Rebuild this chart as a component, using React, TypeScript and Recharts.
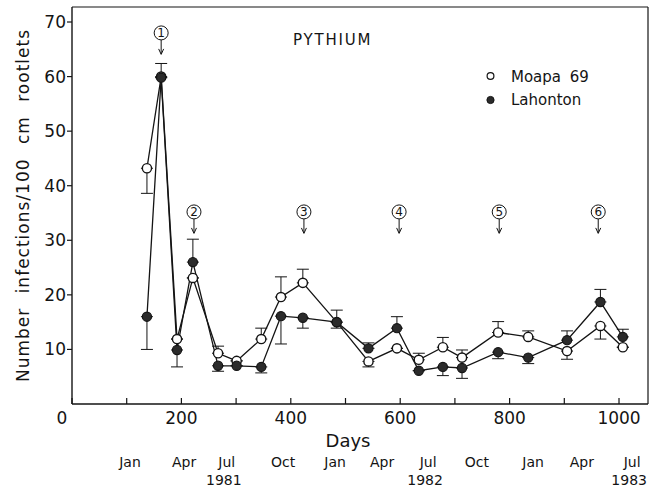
import { LineChart, Line, XAxis, YAxis, ErrorBar, ReferenceDot, ReferenceLine, Legend } from "recharts";

const FONT = "DejaVu Sans";
const INK = "#141414";

// sampling days (days since the start of the trial)
const days = [137, 163, 192, 221, 267, 301, 346, 382, 422, 484, 542, 594, 634, 678, 713, 779, 834, 905, 966, 1007];

// Moapa 69 (open circles) and its error whiskers [below, above]
const moapa = [43.2, 60.0, 11.9, 23.1, 9.3, 7.9, 11.9, 19.6, 22.2, 15.0, 7.8, 10.2, 8.1, 10.4, 8.5, 13.1, 12.3, 9.7, 14.3, 10.4];
const moapaErr = [
  [4.6, 0], [0, 2.4], [0, 0], [0, 0], [0, 1.3], [0, 0], [0, 2.0], [0, 3.7], [0, 2.5], [0, 2.2],
  [1.0, 0], [0, 0], [0, 1.2], [0, 1.8], [0, 1.4], [0, 2.0], [0, 1.1], [1.5, 0], [2.4, 0], [0, 0],
];

// Lahonton (filled circles)
const lahonton = [16.0, 59.8, 9.9, 26.0, 7.0, 7.0, 6.8, 16.1, 15.8, 15.0, 10.2, 13.9, 6.1, 6.8, 6.6, 9.5, 8.5, 11.7, 18.7, 12.3];
const lahontonErr = [
  [6.0, 0], [0, 0], [3.1, 0], [0, 4.2], [1.0, 0], [0, 0], [1.1, 0], [5.1, 0], [1.9, 0], [1.1, 0],
  [0, 1.0], [0, 2.1], [0, 0], [1.6, 0], [1.9, 0], [1.2, 0], [1.1, 0], [0, 1.7], [0, 2.3], [0, 1.4],
];

// numbered treatment markers (circled numbers with arrows)
const markerNums = [1, 2, 3, 4, 5, 6];
const markerDays = [163, 223, 424, 598, 781, 962];
const markerLevels = [68, 35.2, 35.2, 35.2, 35.2, 35.2];

const X_MAX = 1053;
const Y_MAX = 72.75;

const dayTicks = [0, 100, 200, 300, 400, 500, 600, 700, 800, 900, 1000];
const valueTicks = [10, 20, 30, 40, 50, 60, 70];

// calendar row under the day axis
const monthDays = [106, 205, 283, 386, 481, 567, 651, 740, 843, 932, 1024];
const monthNames = ["Jan", "Apr", "Jul", "Oct", "Jan", "Apr", "Jul", "Oct", "Jan", "Apr", "Jul"];
const monthYears = ["", "", "1981", "", "", "", "1982", "", "", "", "1983"];

const allTicks = [...dayTicks, ...monthDays].sort((a, b) => a - b);

const data = days.map((day, i) => ({
  day,
  moapa: moapa[i],
  moapaErr: moapaErr[i],
  lahonton: lahonton[i],
  lahontonErr: lahontonErr[i],
}));

function DayTick({ x, y, payload }: any) {
  const v = payload.value;
  const m = monthDays.indexOf(v);
  if (m >= 0) {
    return (
      <g fontFamily={FONT} fill={INK} fontSize={14} textAnchor="middle">
        <text x={x} y={y + 63}>{monthNames[m]}</text>
        {monthYears[m] && <text x={x - 3} y={y + 81}>{monthYears[m]}</text>}
      </g>
    );
  }
  return (
    <g>
      <line x1={x} x2={x} y1={y} y2={y - 6} stroke={INK} strokeWidth={1.2} />
      {v % 200 === 0 && (
        <text x={v === 0 ? x - 10 : x} y={y + 20} textAnchor="middle" fontFamily={FONT} fontSize={17} fill={INK}>
          {v}
        </text>
      )}
    </g>
  );
}

function Marker({ cx, cy, n }: { cx: number; cy: number; n: number }) {
  return (
    <g>
      <circle cx={cx} cy={cy} r={7} fill="white" stroke={INK} strokeWidth={1} />
      <text x={cx} y={cy + 4.3} textAnchor="middle" fontFamily={FONT} fontSize={12} fill={INK}>
        {n}
      </text>
      <line x1={cx} x2={cx} y1={cy + 7} y2={cy + 21} stroke={INK} strokeWidth={1} />
      <path d={`M${cx - 2.5},${cy + 16} L${cx},${cy + 21.5} L${cx + 2.5},${cy + 16}`} fill="none" stroke={INK} strokeWidth={1} />
    </g>
  );
}

function OpenDot({ cx, cy }: any) {
  return <circle cx={cx} cy={cy} r={4.6} fill="white" stroke={INK} strokeWidth={1.4} />;
}

function FilledDot({ cx, cy }: any) {
  return <circle cx={cx} cy={cy} r={4.6} fill="#2b2b2b" stroke={INK} strokeWidth={1.2} />;
}

function LegendBox() {
  return (
    <svg width={120} height={46} style={{ display: "block" }}>
      <circle cx={8.5} cy={10} r={3.4} fill="white" stroke={INK} strokeWidth={1.2} />
      <text x={29} y={16} fontFamily={FONT} fontSize={15} fill={INK} wordSpacing={4}>Moapa 69</text>
      <circle cx={8.5} cy={34} r={3.6} fill="#2b2b2b" stroke={INK} />
      <text x={29} y={38.5} fontFamily={FONT} fontSize={15} fill={INK}>Lahonton</text>
    </svg>
  );
}

export default function App() {
  return (
    <div style={{ position: "absolute", left: 0, top: 0, background: "white" }}>
      <LineChart width={656} height={491} data={data} margin={{ top: 7, right: 8, bottom: 0, left: 0 }}>
        <XAxis
          dataKey="day"
          type="number"
          domain={[0, X_MAX]}
          ticks={allTicks}
          interval={0}
          height={87}
          tickSize={0}
          tickMargin={0}
          tickLine={false}
          axisLine={{ stroke: INK, strokeWidth: 1.4 }}
          tick={<DayTick />}
          label={{
            content: ({ viewBox }: any) => (
              <text x={viewBox.x + viewBox.width / 2 - 12} y={viewBox.y + 43} textAnchor="middle" fontFamily={FONT} fontSize={18} fill={INK}>
                Days
              </text>
            ),
          }}
        />
        <YAxis
          type="number"
          domain={[0, Y_MAX]}
          ticks={valueTicks}
          interval={0}
          width={72}
          tickSize={5}
          tickMargin={1}
          tickLine={{ stroke: INK, strokeWidth: 1.2 }}
          axisLine={{ stroke: INK, strokeWidth: 1.4 }}
          tick={{ fontFamily: FONT, fontSize: 17, fill: INK }}
          label={{
            content: ({ viewBox }: any) => {
              const cy = viewBox.y + viewBox.height / 2;
              return (
                <text
                  x={29}
                  y={cy}
                  transform={`rotate(-90, 29, ${cy})`}
                  textAnchor="middle"
                  fontFamily={FONT}
                  fontSize={17}
                  letterSpacing={1}
                  wordSpacing={8}
                  fill={INK}
                >
                  Number infections/100 cm rootlets
                </text>
              );
            },
          }}
        />
        {/* frame: top and right edges of the plot */}
        <ReferenceLine
          y={Y_MAX}
          stroke={INK}
          strokeWidth={1.2}
          label={{
            content: ({ viewBox }: any) => (
              <text x={viewBox.x + 221} y={viewBox.y + 38} fontFamily={FONT} fontSize={15} letterSpacing={1.8} fill={INK}>
                PYTHIUM
              </text>
            ),
          }}
        />
        <ReferenceLine x={X_MAX} stroke={INK} strokeWidth={1.2} />
        <Legend
          layout="horizontal"
          verticalAlign="middle"
          align="center"
          content={() => <LegendBox />}
          wrapperStyle={{ position: "absolute", left: 482, top: 66, width: 120 }}
        />
        <Line
          dataKey="moapa"
          type="linear"
          stroke={INK}
          strokeWidth={1.3}
          dot={<OpenDot />}
          activeDot={false}
          isAnimationActive={false}
        >
          <ErrorBar dataKey="moapaErr" direction="y" width={6} stroke={INK} strokeWidth={1} />
        </Line>
        <Line
          dataKey="lahonton"
          type="linear"
          stroke={INK}
          strokeWidth={1.3}
          dot={<FilledDot />}
          activeDot={false}
          isAnimationActive={false}
        >
          <ErrorBar dataKey="lahontonErr" direction="y" width={6} stroke={INK} strokeWidth={1} />
        </Line>
        {markerNums.map((n, i) => (
          <ReferenceDot
            key={n}
            x={markerDays[i]}
            y={markerLevels[i]}
            shape={(p: any) => <Marker cx={p.cx} cy={p.cy} n={n} />}
          />
        ))}
      </LineChart>
    </div>
  );
}
